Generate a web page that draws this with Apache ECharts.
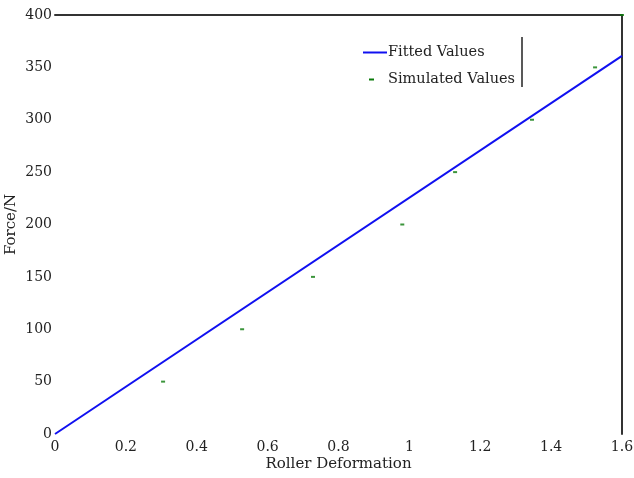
<!DOCTYPE html>
<html>
<head>
<meta charset="utf-8">
<script src="https://cdn.jsdelivr.net/npm/echarts@6/dist/echarts.min.js"></script>
<style>
  html, body { margin: 0; padding: 0; background: #fff; }
  #chart { width: 634px; height: 478px; }
</style>
</head>
<body>
<div id="chart"></div>
<script>
  // fitted line end points
  const fitX = [0, 1.6];
  const fitY = [0, 361];
  // simulated points
  const simX = [0.305, 0.528, 0.728, 0.98, 1.129, 1.346, 1.524, 1.6];
  const simY = [50, 100, 150, 200, 250, 300, 350, 400];

  const fitData = fitX.map((x, i) => [x, fitY[i]]);
  const simData = simX.map((x, i) => [x, simY[i]]);

  const font = 'DejaVu Serif';
  const blue = '#1010f0';
  const green = '#0a7a0a';
  let myChart = echarts.init(document.getElementById('chart'));
  myChart.setOption({
    animation: false,
    grid: { left: 55, right: 12, top: 15, bottom: 44, outerBoundsMode: 'none', containLabel: false },
    legend: {
      left: 358,
      top: 40,
      orient: 'vertical',
      itemGap: 12,
      itemWidth: 24,
      itemHeight: 10,
      textStyle: { fontFamily: font, fontSize: 14.5, color: '#222', padding: [0, 0, 0, -4] },
      data: [
        { name: 'Fitted Values', icon: 'path://M0,0L0,0M24,10L24,10M0,4L24,4L24,6L0,6Z',
          itemStyle: { color: blue, opacity: 1 } },
        { name: 'Simulated Values', icon: 'path://M0,0L0,0M24,10L24,10M6,4L11,4L11,6L6,6Z',
          itemStyle: { color: green, opacity: 1 } }
      ]
    },
    // legend box right edge
    graphic: [
      { type: 'line', shape: { x1: 522, y1: 37, x2: 522, y2: 87 },
        style: { stroke: '#222', lineWidth: 1.5 } }
    ],
    xAxis: [
      {
        type: 'value', min: 0, max: 1.6, interval: 0.2,
        name: 'Roller Deformation', nameLocation: 'middle', nameGap: 23, nameMoveOverlap: false,
        nameTextStyle: { fontFamily: font, fontSize: 15, color: '#222' },
        axisLine: { show: false }, axisTick: { show: false }, splitLine: { show: false },
        axisLabel: { fontFamily: font, fontSize: 14, color: '#222', margin: 6,
          formatter: v => String(Math.round(v * 10) / 10) }
      },
      {
        type: 'value', position: 'top', min: 0, max: 1.6,
        axisLine: { show: true, onZero: false, lineStyle: { color: '#333', width: 2 } },
        axisTick: { show: false }, axisLabel: { show: false }, splitLine: { show: false }
      }
    ],
    yAxis: [
      {
        type: 'value', min: 0, max: 400, interval: 50,
        name: 'Force/N', nameLocation: 'middle', nameGap: 36, nameMoveOverlap: false,
        nameTextStyle: { fontFamily: font, fontSize: 15, color: '#222' },
        axisLine: { show: false }, axisTick: { show: false }, splitLine: { show: false },
        axisLabel: { fontFamily: font, fontSize: 14, color: '#222', margin: 3 }
      },
      {
        type: 'value', position: 'right', min: 0, max: 400,
        axisLine: { show: true, onZero: false, lineStyle: { color: '#333', width: 2 } },
        axisTick: { show: false }, axisLabel: { show: false }, splitLine: { show: false }
      }
    ],
    series: [
      {
        name: 'Fitted Values',
        type: 'line',
        data: fitData,
        showSymbol: false,
        lineStyle: { color: blue, width: 2 },
        itemStyle: { color: blue }
      },
      {
        name: 'Simulated Values',
        type: 'scatter',
        data: simData,
        symbol: 'rect',
        symbolSize: [4, 2],
        itemStyle: { color: green }
      }
    ]
  });
</script>
</body>
</html>
